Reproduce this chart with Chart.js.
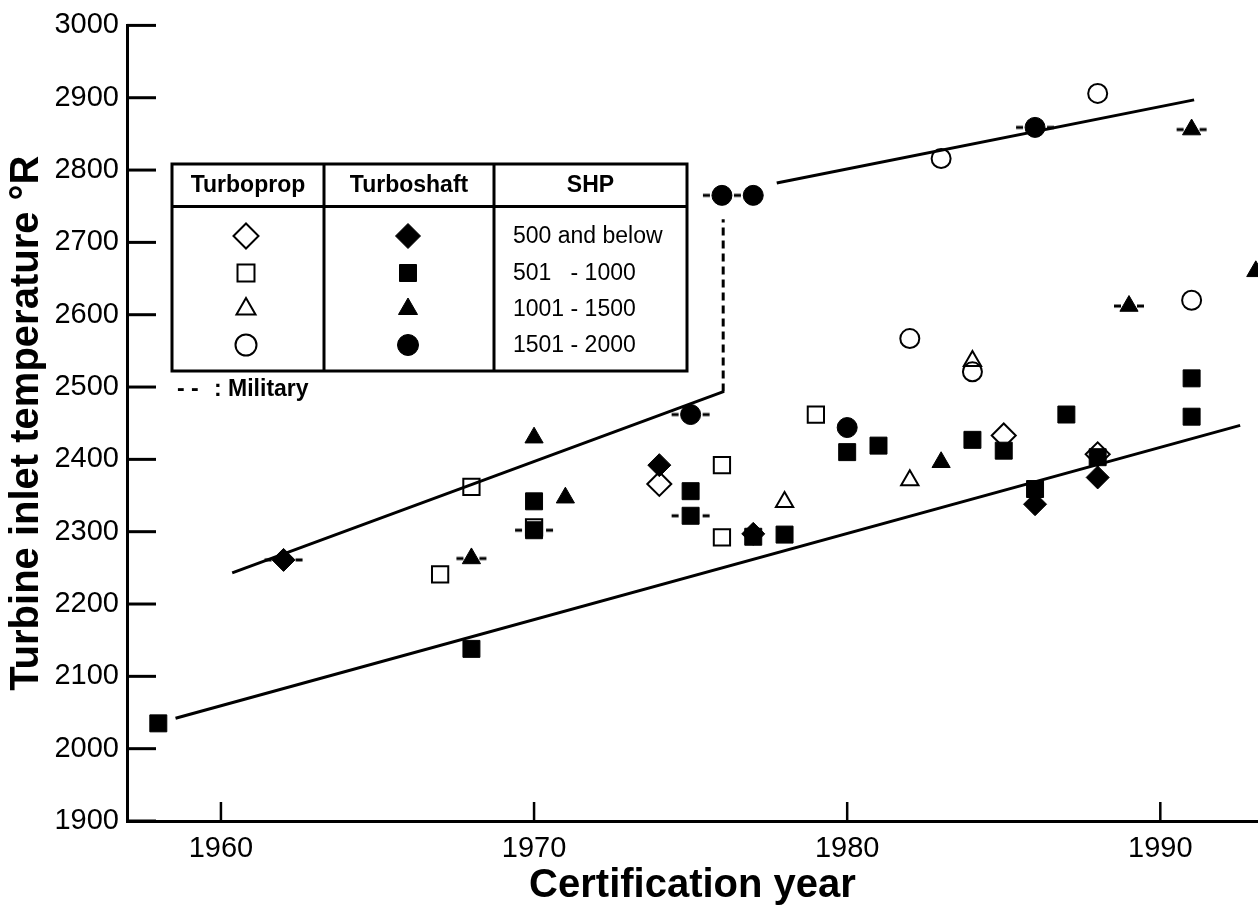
<!DOCTYPE html>
<html>
<head>
<meta charset="utf-8">
<script src="https://cdn.jsdelivr.net/npm/chart.js@4.4.0/dist/chart.umd.min.js"></script>
<style>
  body { margin: 0; background: #fff; }
  canvas { display: block; }
</style>
</head>
<body>
<canvas id="tit-chart" width="1258" height="911"></canvas>
<script>
// [certification year, turbine inlet temperature °R]
// turboprop = open symbols, turboshaft = filled symbols
const propDiamond = [[1974, 2366], [1985, 2433], [1988, 2407]];
const propSquare = [[1967, 2241], [1968, 2362], [1970, 2306], [1976, 2392], [1976, 2292], [1979, 2462]];
const propTriangle = [[1978, 2341], [1982, 2371], [1984, 2536]];
const propCircle = [[1982, 2567], [1983, 2816], [1984, 2521], [1988, 2906], [1991, 2620]];

const shaftDiamond = [[1962, 2261], [1974, 2392], [1977, 2297], [1986, 2338], [1988, 2375]];
const shaftSquare = [[1958, 2035], [1968, 2138], [1970, 2342], [1970, 2302], [1975, 2356], [1975, 2322],
  [1977, 2293], [1978, 2296], [1980, 2410], [1981, 2419], [1984, 2427], [1985, 2412], [1986, 2359],
  [1987, 2462], [1988, 2403], [1991, 2512], [1991, 2459]];
const shaftTriangle = [[1968, 2263], [1970, 2430], [1971, 2347], [1983, 2396], [1989, 2612], [1991, 2856], [1993.05, 2660]];
const shaftCircle = [[1975, 2462], [1976, 2765], [1977, 2765], [1980, 2444], [1986, 2859]];

// military engines get dashes either side
const militaryWide = [[1962, 2261], [1970, 2302], [1975, 2462], [1975, 2322], [1976, 2765], [1986, 2859]];
const militaryNarrow = [[1968, 2263], [1989, 2612], [1991, 2856]];

// trend lines
const lowerLine = [[1958.55, 2042], [1992.55, 2447]];
const upperLeftLine = [[1960.36, 2243], [1976.07, 2494]];
const stepLine = [[1976.04, 2494], [1976.04, 2732]];
const upperRightLine = [[1977.75, 2782], [1991.08, 2897]];

const yearTicks = [1960, 1970, 1980, 1990];
const shpLabels = ['500 and below', '501   - 1000', '1001 - 1500', '1501 - 2000'];

const FONT = "'Liberation Sans', Arial, Helvetica, sans-serif";
Chart.defaults.font.family = FONT;
Chart.defaults.color = '#000';

const pts = arr => arr.map(p => ({x: p[0], y: p[1]}));

function dashMark(inner, outer) {
  const c = document.createElement('canvas');
  const w = outer * 2 + 2;
  c.width = w;
  c.height = 6;
  const g = c.getContext('2d');
  g.fillStyle = '#000';
  g.fillRect(1, 1.5, outer - inner, 3);
  g.fillRect(w / 2 + inner, 1.5, outer - inner, 3);
  return c;
}

function filled(data, style, r) {
  return {data: pts(data), pointStyle: style, pointRadius: r, backgroundColor: '#000',
    borderColor: '#000', borderWidth: 1, clip: false, order: 1};
}
function open(data, style, r) {
  return {data: pts(data), pointStyle: style, pointRadius: r, backgroundColor: 'rgba(0,0,0,0)',
    borderColor: '#000', borderWidth: 2, clip: false, order: 2};
}
function military(data, img) {
  return {data: pts(data), pointStyle: img, pointRadius: 1, clip: false, order: 5};
}
function trend(data, dash) {
  return {data: pts(data), showLine: true, pointRadius: 0, borderColor: '#000', borderWidth: 3,
    borderDash: dash || [], order: 10};
}

function drawMarker(ctx, style, x, y, r, isFilled) {
  ctx.save();
  ctx.strokeStyle = '#000';
  ctx.fillStyle = isFilled ? '#000' : 'rgba(0,0,0,0)';
  ctx.lineWidth = isFilled ? 1 : 2;
  Chart.helpers.drawPoint(ctx, {pointStyle: style, radius: r, rotation: 0, borderWidth: ctx.lineWidth}, x, y);
  ctx.restore();
}

const inwardTicks = {
  id: 'inwardTicks',
  afterDraw(chart) {
    const {ctx, chartArea, scales} = chart;
    ctx.save();
    ctx.strokeStyle = '#000';
    ctx.lineWidth = 3;
    scales.y.ticks.forEach(t => {
      const py = scales.y.getPixelForValue(t.value);
      ctx.beginPath();
      ctx.moveTo(chartArea.left, py);
      ctx.lineTo(chartArea.left + 29, py);
      ctx.stroke();
    });
    ctx.lineWidth = 2.5;
    scales.x.ticks.forEach(t => {
      const px = scales.x.getPixelForValue(t.value);
      ctx.beginPath();
      ctx.moveTo(px, chartArea.bottom);
      ctx.lineTo(px, chartArea.bottom - 19);
      ctx.stroke();
    });
    ctx.restore();
  }
};

const symbolTable = {
  id: 'symbolTable',
  afterDraw(chart) {
    const ctx = chart.ctx;
    const left = 172, right = 687, top = 164, bottom = 371, headY = 206.5;
    const col1 = 324, col2 = 494;
    ctx.save();
    ctx.strokeStyle = '#000';
    ctx.lineWidth = 3;
    ctx.fillStyle = '#fff';
    ctx.fillRect(left, top, right - left, bottom - top);
    ctx.strokeRect(left, top, right - left, bottom - top);
    ctx.beginPath();
    ctx.moveTo(left, headY); ctx.lineTo(right, headY);
    ctx.moveTo(col1, top); ctx.lineTo(col1, bottom);
    ctx.moveTo(col2, top); ctx.lineTo(col2, bottom);
    ctx.stroke();

    ctx.fillStyle = '#000';
    ctx.textBaseline = 'middle';
    ctx.textAlign = 'center';
    ctx.font = 'bold 23px ' + FONT;
    ctx.fillText('Turboprop', (left + col1) / 2, 186);
    ctx.fillText('Turboshaft', (col1 + col2) / 2, 186);
    ctx.fillText('SHP', (col2 + right) / 2, 186);

    const rows = [236, 273, 309, 345];
    const styles = [['rectRot', 12.5], ['rect', 12], ['triangle', 11], ['circle', 10.5]];
    rows.forEach((ry, i) => {
      drawMarker(ctx, styles[i][0], 246, ry, styles[i][1], false);
      drawMarker(ctx, styles[i][0], 408, ry, styles[i][1], true);
    });
    ctx.textAlign = 'left';
    ctx.font = '23px ' + FONT;
    shpLabels.forEach((t, i) => ctx.fillText(t, 513, rows[i] + 1));

    ctx.font = 'bold 23px ' + FONT;
    ctx.fillText('- -', 177, 390);
    ctx.fillText(': Military', 214, 390);
    ctx.restore();
  }
};

const wideDash = dashMark(12, 19);
const narrowDash = dashMark(8, 15);

new Chart(document.getElementById('tit-chart'), {
  type: 'scatter',
  data: {
    datasets: [
      filled(shaftSquare, 'rect', 12),
      filled(shaftDiamond, 'rectRot', 11.5),
      filled(shaftTriangle, 'triangle', 10.5),
      filled(shaftCircle, 'circle', 10),
      open(propSquare, 'rect', 11.5),
      open(propDiamond, 'rectRot', 12),
      open(propTriangle, 'triangle', 10),
      open(propCircle, 'circle', 9.5),
      military(militaryWide, wideDash),
      military(militaryNarrow, narrowDash),
      trend(lowerLine),
      trend(upperLeftLine),
      trend(stepLine, [8, 5]),
      trend(upperRightLine)
    ]
  },
  options: {
    responsive: false,
    devicePixelRatio: 1,
    animation: false,
    events: [],
    layout: {autoPadding: false, padding: {top: 23, right: 0, bottom: 0, left: 0}},
    plugins: {legend: {display: false}, tooltip: {enabled: false}},
    scales: {
      x: {
        type: 'linear',
        min: 1957,
        max: 1993.12,
        afterFit: s => { s.height = 90; },
        afterBuildTicks: s => { s.ticks = yearTicks.map(v => ({value: v})); },
        grid: {display: false, drawTicks: false},
        border: {display: true, width: 3, color: '#000'},
        ticks: {font: {size: 29}, padding: 11, color: '#000', callback: v => String(v)},
        title: {display: true, text: 'Certification year', color: '#000',
          font: {size: 40, weight: 'bold'}, padding: {top: 0, bottom: 1}}
      },
      y: {
        min: 1900,
        max: 3000,
        afterFit: s => { s.width = 127; },
        grid: {display: false, drawTicks: false},
        border: {display: true, width: 3, color: '#000'},
        ticks: {stepSize: 100, font: {size: 29}, padding: 8, color: '#000', callback: v => String(v)},
        title: {display: true, text: 'Turbine inlet temperature °R', color: '#000',
          font: {size: 40, weight: 'bold'}, padding: {top: 3, bottom: 0}}
      }
    }
  },
  plugins: [inwardTicks, symbolTable]
});
</script>
</body>
</html>
